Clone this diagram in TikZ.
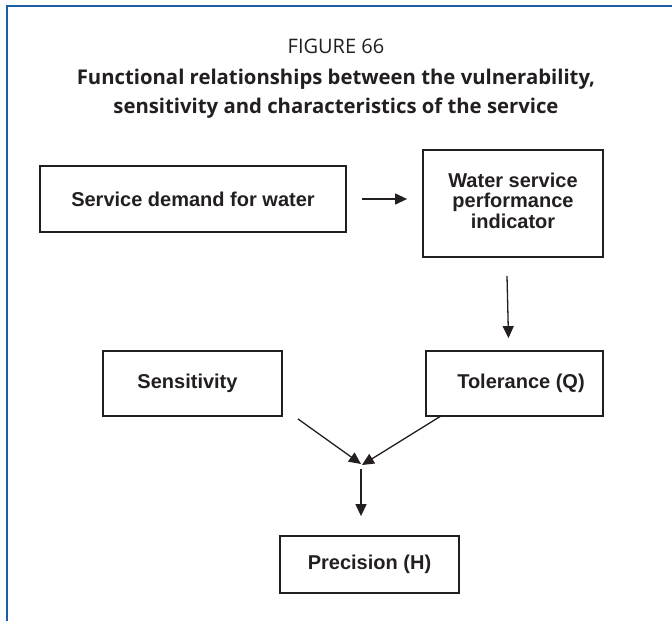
\documentclass[tikz,border=0pt]{standalone}
\usepackage{fontspec}
\setmainfont{Liberation Sans}
\newfontfamily\titlefont{Open Sans}
\usetikzlibrary{arrows.meta}
\definecolor{frameblue}{RGB}{28,94,164}
\definecolor{ink}{RGB}{35,31,32}
\begin{document}
\begin{tikzpicture}[x=1pt,y=-1pt,
  box/.style={draw=ink, line width=1.8pt, inner sep=0pt, text=ink, align=center,
    font=\fontsize{20}{19}\selectfont\bfseries},
  arr/.style={draw=ink, line width=1.3pt, -{Triangle[length=12pt,width=11pt]}},
  headline/.style={text=ink, inner sep=0pt, anchor=base}]
% page and open blue frame
\useasboundingbox (0,0) rectangle (672,621);
\fill[white] (0,0) rectangle (672,621);
\draw[frameblue, line width=2pt] (7,621) -- (7,6) -- (672,6);

% title
\node[headline, font=\titlefont\fontsize{20}{24}\selectfont] (fig) at (336,53) {FIGURE 66};
\node[headline, font=\titlefont\fontsize{20.3}{24}\selectfont\bfseries] (t1) at (336,84)
  {Functional relationships between the vulnerability,};
\node[headline, font=\titlefont\fontsize{20.3}{24}\selectfont\bfseries] (t2) at (336,113)
  {sensitivity and characteristics of the service};

% boxes
\node[box, minimum width=306pt, minimum height=66pt] (dem) at (193,199) {Service demand for water};
\node[box, minimum width=180pt, minimum height=107pt] (wsp) at (513,203.5)
  {\raisebox{3pt}{\begin{tabular}{@{}c@{}}Water service\\performance\\indicator\end{tabular}}};
\node[box, minimum width=179pt, minimum height=65pt] (sen) at (192.5,383.5)
  {\hspace*{-10pt}Sensitivity};
\node[box, minimum width=177pt, minimum height=65pt] (tol) at (514.5,383.5)
  {\raisebox{-3pt}{\hspace*{13pt}Tolerance (Q)}};
\node[box, minimum width=179pt, minimum height=57pt] (pre) at (369.5,564.5) {Precision (H)};

% connectors
\coordinate (meet) at (361,464);
\draw[arr, shorten <=15pt, shorten >=15pt] (dem.east) -- (dem.east -| wsp.west);
\draw[arr] ([xshift=-6pt,yshift=-18pt]wsp.south) -- ([xshift=-6pt,yshift=12pt]tol.north);
\draw[arr] ([xshift=15pt,yshift=-2pt]sen.south east) -- (meet);
\draw[arr] ([xshift=16pt,yshift=1pt]tol.south west) -- ([xshift=1pt,yshift=-1pt]meet);
\draw[arr] ([yshift=-5pt]meet) -- ([yshift=19pt]meet |- pre.north);
\end{tikzpicture}
\end{document}
